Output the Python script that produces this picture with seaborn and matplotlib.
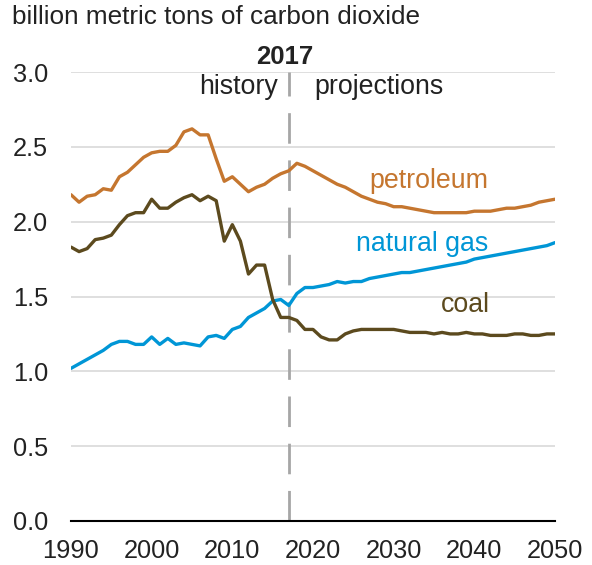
import numpy as np
import pandas as pd
import matplotlib
matplotlib.use("Agg")
import matplotlib.pyplot as plt
import seaborn as sns

years = list(range(1990, 2051))
petroleum = [2.18, 2.13, 2.17, 2.18, 2.22, 2.21, 2.30, 2.33, 2.38, 2.43,
             2.46, 2.47, 2.47, 2.51, 2.60, 2.62, 2.58, 2.58, 2.42, 2.27,
             2.30, 2.25, 2.20, 2.23, 2.25, 2.29, 2.32, 2.34, 2.39, 2.37,
             2.34, 2.31, 2.28, 2.25, 2.23, 2.20, 2.17, 2.15, 2.13, 2.12,
             2.10, 2.10, 2.09, 2.08, 2.07, 2.06, 2.06, 2.06, 2.06, 2.06,
             2.07, 2.07, 2.07, 2.08, 2.09, 2.09, 2.10, 2.11, 2.13, 2.14, 2.15]
coal = [1.83, 1.80, 1.82, 1.88, 1.89, 1.91, 1.98, 2.04, 2.06, 2.06,
        2.15, 2.09, 2.09, 2.13, 2.16, 2.18, 2.14, 2.17, 2.14, 1.87,
        1.98, 1.87, 1.65, 1.71, 1.71, 1.48, 1.36, 1.36, 1.34, 1.28,
        1.28, 1.23, 1.21, 1.21, 1.25, 1.27, 1.28, 1.28, 1.28, 1.28,
        1.28, 1.27, 1.26, 1.26, 1.26, 1.25, 1.26, 1.25, 1.25, 1.26,
        1.25, 1.25, 1.24, 1.24, 1.24, 1.25, 1.25, 1.24, 1.24, 1.25, 1.25]
natural_gas = [1.02, 1.05, 1.08, 1.11, 1.14, 1.18, 1.20, 1.20, 1.18, 1.18,
               1.23, 1.18, 1.22, 1.18, 1.19, 1.18, 1.17, 1.23, 1.24, 1.22,
               1.28, 1.30, 1.36, 1.39, 1.42, 1.47, 1.48, 1.44, 1.52, 1.56,
               1.56, 1.57, 1.58, 1.60, 1.59, 1.60, 1.60, 1.62, 1.63, 1.64,
               1.65, 1.66, 1.66, 1.67, 1.68, 1.69, 1.70, 1.71, 1.72, 1.73,
               1.75, 1.76, 1.77, 1.78, 1.79, 1.80, 1.81, 1.82, 1.83, 1.84, 1.86]
series_names = ["petroleum", "natural gas", "coal"]
colors = {"petroleum": "#C5762F", "natural gas": "#0096D6", "coal": "#5C4A1E"}
x_ticks = [1990, 2000, 2010, 2020, 2030, 2040, 2050]
y_ticks = [0.0, 0.5, 1.0, 1.5, 2.0, 2.5, 3.0]

df = pd.DataFrame({"year": years, "petroleum": petroleum,
                   "natural gas": natural_gas, "coal": coal})
long = df.melt(id_vars="year", var_name="fuel", value_name="value")

sns.set_style("white")
plt.rcParams["font.family"] = ["Liberation Sans", "DejaVu Sans"]

fig = plt.figure(figsize=(5.92, 5.65), dpi=100)
ax = fig.add_axes([71/592, 1 - 521/565, (555-71)/592, (521-72)/565])

for y in y_ticks[1:]:
    ax.axhline(y, color="#D9D9D9", lw=1.2, zorder=0)

sns.lineplot(data=long, x="year", y="value", hue="fuel", palette=colors,
             hue_order=series_names, lw=2.4, legend=False, ax=ax, zorder=3)

ax.axvline(2017, color="#A6A6A6", lw=2, ls=(0, (11, 6)), zorder=2)

ax.set_xlim(1990, 2050)
ax.set_ylim(0, 3.0)
ax.set_xticks(x_ticks)
ax.set_yticks(y_ticks)
ax.set_yticklabels([f"{v:.1f}" for v in y_ticks])
ax.set_xlabel("")
ax.set_ylabel("")
for s in ["top", "right", "left"]:
    ax.spines[s].set_visible(False)
ax.spines["bottom"].set_color("#000000")
ax.spines["bottom"].set_linewidth(1.5)
ax.tick_params(axis="x", direction="out", length=7, width=1.5, color="black",
               labelsize=18.3, pad=6, labelcolor="#222222")
ax.tick_params(axis="y", length=0, labelsize=18.3, pad=16.5, labelcolor="#222222")

ax.text(2016.5, 3.10, "2017", ha="center", va="center", fontsize=18.5,
        fontweight="bold", color="#222222", clip_on=False)
ax.text(2015.7, 2.90, "history", ha="right", va="center", fontsize=19.3,
        color="#222222")
ax.text(2020.2, 2.90, "projections", ha="left", va="center", fontsize=19.3,
        color="#222222")

ax.text(2041.7, 2.275, "petroleum", ha="right", va="center", fontsize=19.3,
        color=colors["petroleum"])
ax.text(2041.7, 1.85, "natural gas", ha="right", va="center", fontsize=19.3,
        color=colors["natural gas"])
ax.text(2041.9, 1.445, "coal", ha="right", va="center", fontsize=19.3,
        color=colors["coal"])

fig.text(12/592, 1 - 17/565, "billion metric tons of carbon dioxide",
         ha="left", va="center", fontsize=18.8, color="#222222")

fig.savefig("out.png", dpi=100)
